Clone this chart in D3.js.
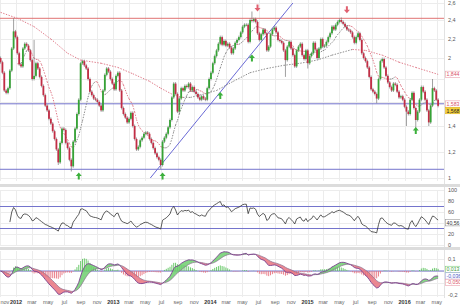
<!DOCTYPE html>
<html>
<head>
<meta charset="utf-8">
<script src="https://cdn.jsdelivr.net/npm/d3@7"></script>
<style>
    body { margin: 0; background: #fff; }
    svg { display: block; font-family: "Liberation Sans", Arial, sans-serif; }
</style>
</head>
<body>
<script>

// Data (weekly candles, first one in the week of 4 Nov 2011)

const FIRST_WEEK = new Date(2011, 10, 4);
const FIRST_OPEN = 2.0;
const closes = [
    1.96, 1.86, 1.70, 1.68, 1.72, 1.88, 2.10, 2.28, 2.22, 2.05,
    1.94, 1.92, 2.10, 2.15, 2.13, 2.08, 1.98, 1.80, 1.83, 1.95,
    1.90, 1.82, 1.74, 1.66, 1.57, 1.53, 1.46, 1.42, 1.36, 1.30,
    1.22, 1.12, 1.27, 1.38, 1.37, 1.27, 1.23, 1.14, 1.09, 1.28,
    1.38, 1.50, 1.62, 1.95, 1.97, 1.93, 1.90, 1.80, 1.69, 1.66,
    1.63, 1.62, 1.60, 1.57, 1.53, 1.70, 1.84, 1.90, 1.87, 1.80,
    1.76, 1.71, 1.83, 1.86, 1.70, 1.55, 1.50, 1.47, 1.43, 1.46,
    1.51, 1.40, 1.30, 1.22, 1.24, 1.29, 1.31, 1.34, 1.35, 1.34,
    1.30, 1.27, 1.23, 1.19, 1.16, 1.14, 1.10, 1.28, 1.31, 1.34,
    1.39, 1.45, 1.64, 1.76, 1.67, 1.52, 1.63, 1.72, 1.70, 1.74,
    1.73, 1.76, 1.70, 1.73, 1.69, 1.67, 1.64, 1.62, 1.65, 1.63,
    1.62, 1.72, 1.80, 1.86, 1.95, 2.02, 2.08, 2.15, 2.22, 2.14,
    2.18, 2.13, 2.15, 2.11, 2.05, 2.10, 2.16, 2.19, 2.22, 2.27,
    2.33, 2.35, 2.35, 2.17, 2.40, 2.39, 2.41, 2.38, 2.26, 2.19,
    2.25, 2.30, 2.26, 2.08, 2.12, 2.25, 2.30, 2.32, 2.27, 2.19,
    2.18, 2.16, 2.08, 1.98, 2.12, 2.17, 2.10, 2.03, 1.92, 2.08,
    2.12, 2.15, 2.03, 1.99, 2.08, 1.95, 2.02, 2.05, 2.16, 2.09,
    2.00, 2.10, 2.20, 2.12, 2.13, 2.17, 2.22, 2.26, 2.33, 2.30,
    2.35, 2.38, 2.40, 2.38, 2.36, 2.33, 2.30, 2.29, 2.27, 2.22,
    2.16, 2.22, 2.26, 2.19, 2.05, 2.00, 1.97, 1.91, 1.82, 1.71,
    1.69, 1.67, 1.63, 1.80, 1.97, 1.99, 1.91, 1.83, 1.77, 1.73,
    1.70, 1.76, 1.75, 1.69, 1.64, 1.65, 1.62, 1.56, 1.52, 1.50,
    1.62, 1.68, 1.55, 1.45, 1.52, 1.62, 1.73, 1.69, 1.62, 1.53,
    1.43, 1.57, 1.72, 1.70, 1.62, 1.568
];
// long shadows: [week, price]
const wickHighs = [[7, 2.42], [18, 2.19], [135, 2.50], [183, 2.43], [232, 1.80]];
const wickLows = [[31, 1.10], [38, 1.05], [86, 1.07], [153, 1.82], [165, 1.90],
                  [202, 1.59], [218, 1.40], [223, 1.38], [230, 1.40]];

// long moving average: [week, price]
const longMa = [
    [0, 2.49], [9, 2.42], [18, 2.33], [27, 2.20], [36, 2.05], [43, 1.98], [54, 1.95],
    [63, 1.91], [71, 1.85], [80, 1.78], [86, 1.72], [93, 1.66], [98, 1.64], [102, 1.64],
    [107, 1.66], [116, 1.70], [125, 1.78], [134, 1.86], [143, 1.90], [152, 1.93],
    [161, 1.95], [170, 1.98], [178, 2.03], [189, 2.09], [196, 2.08], [205, 2.03],
    [214, 1.96], [223, 1.91], [235, 1.844]
];
const SHORT_MA_WEEKS = 10;

const resistance = [2.42];
const supports = [1.585, 1.067];
const trendLine = [[80.5, 1.0], [157, 2.6]];      // [week, price]
const buySignals = [[42, 1.0], [87, 1.0], [118, 1.64], [135, 1.98], [223, 1.35]];
const sellSignals = [[138, 2.54], [186, 2.52]];

const priceTicks = [1.0, 1.2, 1.4, 1.6, 1.8, 2.0, 2.2, 2.4, 2.6];
const rsiTicks = [0, 20, 40, 60, 80, 100];
const rsiBands = [70, 30];
const macdTicks = [-0.2, -0.1, 0, 0.1];
const monthNames = ["jan", "feb", "mar", "apr", "may", "jun", "jul", "aug", "sep", "oct", "nov", "dec"];

// values shown in the boxes at the right edge
const lastLongMa = 1.844, lastShortMa = 1.583, lastClose = 1.568;
const lastRsi = 40.56;
const lastHist = 0.013, lastMacd = -0.036, lastSignal = -0.050;


// Layout

const W = 460, H = 308;
const PLOT_R = 444;
const LABEL_X = 448;
const PRICE_TICK_Y = [178, 152, 126, 102, 79, 58, 39, 20, 3];
const MAIN = {top: 0, bottom: 181};
const RSI = {top: 190, bottom: 245};
const MACD = {top: 251, bottom: 297};

const GREEN = "#36a336", RED = "#c22d45", BLUE = "#7474cc";


// Indicators

function sma(vals, n) {
    return vals.map((v, i) => i < n - 1 ? null : d3.mean(vals.slice(i - n + 1, i + 1)));
}

function ema(vals, n) {
    const k = 2 / (n + 1);
    let e = vals[0];
    return vals.map((v, i) => (e = i ? v * k + e * (1 - k) : v));
}

function rsi(vals, n) {
    let g = 0, l = 0;
    return vals.map((v, i) => {
        if (!i) return null;
        const d = v - vals[i - 1];
        const up = Math.max(d, 0), dn = Math.max(-d, 0);
        if (i <= n) { g += (up - g) / i; l += (dn - l) / i; }
        else { g = (g * (n - 1) + up) / n; l = (l * (n - 1) + dn) / n; }
        return l === 0 ? 100 : 100 - 100 / (1 + g / l);
    });
}


function main() {

    const locale = d3.formatLocale({decimal: ",", thousands: ".", grouping: [3], currency: ["", ""], minus: "-"});
    const fmt = locale.format(".1~f");
    const fmt3 = locale.format(".3f"), fmt2 = locale.format(".2f");

    const dates = closes.map((c, i) => d3.timeDay.offset(FIRST_WEEK, 7 * i));
    const weekDate = w => d3.timeDay.offset(FIRST_WEEK, 7 * w);
    const opens = closes.map((c, i) => i ? closes[i - 1] : FIRST_OPEN);
    const highMap = new Map(wickHighs), lowMap = new Map(wickLows);

    const shortMa = sma(closes, SHORT_MA_WEEKS);
    const rsiVals = rsi(closes, 14);
    const ema12 = ema(closes, 12), ema26 = ema(closes, 26);
    const macd = closes.map((c, i) => ema12[i] - ema26[i]);
    const signal = ema(macd, 9);
    const hist = macd.map((m, i) => m - signal[i]);

    // ----- Scales -----
    const x = d3.scaleTime()
        .domain([new Date(2012, 0, 1), new Date(2016, 0, 1)])
        .range([16, 404.6]);
    const y = d3.scaleLinear().domain(priceTicks).range(PRICE_TICK_Y);
    const yRsi = d3.scaleLinear().domain([0, 100]).range([RSI.bottom, RSI.top]);
    const yMacd = d3.scaleLinear().domain([-0.2, 0.1]).range([295, 259]);

    const svg = d3.select("body").append("svg")
        .attr("width", W)
        .attr("height", H);

    const defs = svg.append("defs");
    [["clipMain", MAIN], ["clipRsi", RSI], ["clipMacd", MACD]].forEach(([id, p]) => {
        defs.append("clipPath").attr("id", id)
            .append("rect").attr("x", 0).attr("y", p.top)
            .attr("width", PLOT_R).attr("height", p.bottom - p.top + 2);
    });

    // ----- Grid -----
    const monthTicks = d3.timeMonth.every(2).range(new Date(2011, 10, 1), new Date(2016, 5, 2));
    const grid = svg.append("g").attr("stroke", "#ececec").attr("stroke-width", 1);
    [MAIN, RSI, MACD].forEach(p => {
        grid.selectAll(null).data(monthTicks).enter().append("line")
            .attr("x1", d => Math.round(x(d)) + 0.5).attr("x2", d => Math.round(x(d)) + 0.5)
            .attr("y1", p.top).attr("y2", p.bottom);
    });
    grid.selectAll(null).data(priceTicks).enter().append("line")
        .attr("x1", 0).attr("x2", PLOT_R)
        .attr("y1", d => Math.round(y(d)) + 0.5).attr("y2", d => Math.round(y(d)) + 0.5);
    grid.selectAll(null).data(rsiTicks).enter().append("line")
        .attr("x1", 0).attr("x2", PLOT_R)
        .attr("y1", d => Math.round(yRsi(d)) + 0.5).attr("y2", d => Math.round(yRsi(d)) + 0.5);
    grid.selectAll(null).data(macdTicks).enter().append("line")
        .attr("x1", 0).attr("x2", PLOT_R)
        .attr("y1", d => Math.round(yMacd(d)) + 0.5).attr("y2", d => Math.round(yMacd(d)) + 0.5);
    svg.append("line")
        .attr("x1", PLOT_R + 0.5).attr("x2", PLOT_R + 0.5)
        .attr("y1", 0).attr("y2", 298)
        .attr("stroke", "#e2e2e2");

    // panel separators
    svg.selectAll("rect.sep").data([184, 247]).enter().append("rect")
        .attr("class", "sep")
        .attr("x", 0).attr("y", d => d)
        .attr("width", W).attr("height", 3)
        .attr("fill", "#dcdcdc");

    // ----- Main panel -----
    const main = svg.append("g").attr("clip-path", "url(#clipMain)");

    main.selectAll("line.res").data(resistance).enter().append("line")
        .attr("x1", 0).attr("x2", PLOT_R)
        .attr("y1", d => y(d)).attr("y2", d => y(d))
        .attr("stroke", "#e07272").attr("stroke-width", 1);
    main.selectAll("line.sup").data(supports).enter().append("line")
        .attr("x1", 0).attr("x2", PLOT_R)
        .attr("y1", d => y(d)).attr("y2", d => y(d))
        .attr("stroke", BLUE).attr("stroke-width", 1);
    main.append("line")
        .attr("x1", x(weekDate(trendLine[0][0]))).attr("y1", y(trendLine[0][1]))
        .attr("x2", x(weekDate(trendLine[1][0]))).attr("y2", y(trendLine[1][1]))
        .attr("stroke", "#6a6ad6").attr("stroke-width", 1);

    // moving averages, red where falling, grey where rising
    function dottedSegments(points) {
        for (let i = 1; i < points.length; i++) {
            const [a, b] = [points[i - 1], points[i]];
            main.append("line")
                .attr("x1", a[0]).attr("y1", a[1])
                .attr("x2", b[0]).attr("y2", b[1])
                .attr("stroke", b[2] < a[2] ? "#e07c8a" : "#8a8a8a")
                .attr("stroke-width", 1)
                .attr("stroke-dasharray", "1.4,1.4");
        }
    }
    dottedSegments(longMa.map(([w, v]) => [x(weekDate(w)), y(v), v]));
    dottedSegments(shortMa.map((v, i) => [x(dates[i]), v === null ? null : y(v), v])
        .filter(d => d[2] !== null));

    // candles
    const candles = main.append("g").selectAll("g")
        .data(closes)
        .enter()
        .append("g");
    candles.append("line")
        .attr("x1", (d, i) => x(dates[i])).attr("x2", (d, i) => x(dates[i]))
        .attr("y1", (d, i) => highMap.has(i) ? y(highMap.get(i)) : y(Math.max(d, opens[i])) - 1.5)
        .attr("y2", (d, i) => lowMap.has(i) ? y(lowMap.get(i)) : y(Math.min(d, opens[i])) + 1.5)
        .attr("stroke", "#777").attr("stroke-width", 0.7);
    candles.append("rect")
        .attr("x", (d, i) => x(dates[i]) - 0.9)
        .attr("width", 1.8)
        .attr("y", (d, i) => y(Math.max(d, opens[i])))
        .attr("height", (d, i) => Math.max(0.8, y(Math.min(d, opens[i])) - y(Math.max(d, opens[i]))))
        .attr("fill", (d, i) => d >= opens[i] ? GREEN : RED);

    // signal arrows
    const arrow = "M0,-3.5 L3,0 L1,0 L1,3.5 L-1,3.5 L-1,0 L-3,0 Z";
    main.selectAll("path.buy").data(buySignals).enter().append("path")
        .attr("d", arrow)
        .attr("transform", d => `translate(${x(weekDate(d[0]))},${y(d[1]) - 2})`)
        .attr("fill", "#3bb03b");
    main.selectAll("path.sell").data(sellSignals).enter().append("path")
        .attr("d", arrow)
        .attr("transform", d => `translate(${x(weekDate(d[0]))},${y(d[1])}) rotate(180)`)
        .attr("fill", "#e06070");

    // ----- RSI panel -----
    const rsiG = svg.append("g").attr("clip-path", "url(#clipRsi)");
    rsiG.selectAll("line.band").data(rsiBands).enter().append("line")
        .attr("x1", 0).attr("x2", PLOT_R)
        .attr("y1", d => yRsi(d)).attr("y2", d => yRsi(d))
        .attr("stroke", BLUE).attr("stroke-width", 1);
    rsiG.append("path")
        .datum(rsiVals.map((v, i) => [dates[i], v]).filter((d, i) => i >= 5))
        .attr("d", d3.line().x(d => x(d[0])).y(d => yRsi(d[1])))
        .attr("fill", "none")
        .attr("stroke", "#333")
        .attr("stroke-width", 0.8);

    // ----- MACD panel -----
    const macdG = svg.append("g").attr("clip-path", "url(#clipMacd)");
    macdG.append("line")
        .attr("x1", 0).attr("x2", PLOT_R)
        .attr("y1", yMacd(0)).attr("y2", yMacd(0))
        .attr("stroke", BLUE).attr("stroke-width", 1);
    macdG.selectAll("line.hist").data(hist).enter().append("line")
        .attr("x1", (d, i) => x(dates[i])).attr("x2", (d, i) => x(dates[i]))
        .attr("y1", yMacd(0)).attr("y2", d => yMacd(d))
        .attr("stroke", d => d >= 0 ? "#5cc45c" : "#e8707e")
        .attr("stroke-width", 0.9);

    // shaded band between MACD and signal, split into runs of the same sign
    const area = d3.area()
        .x(i => x(dates[i]))
        .y0(i => yMacd(signal[i]))
        .y1(i => yMacd(macd[i]));
    let run = [0];
    for (let i = 1; i <= closes.length; i++) {
        if (i === closes.length || (hist[i] >= 0) !== (hist[run[0]] >= 0)) {
            if (i < closes.length) run.push(i);
            macdG.append("path")
                .attr("d", area(run))
                .attr("fill", hist[run[0]] >= 0 ? "#6fcf6f" : "#e8737f")
                .attr("opacity", 0.85);
            run = [i];
        } else {
            run.push(i);
        }
    }
    macdG.append("path")
        .datum(signal)
        .attr("d", d3.line().x((d, i) => x(dates[i])).y(d => yMacd(d)))
        .attr("fill", "none").attr("stroke", "#8a6f8f").attr("stroke-width", 0.7);
    macdG.append("path")
        .datum(macd)
        .attr("d", d3.line().x((d, i) => x(dates[i])).y(d => yMacd(d)))
        .attr("fill", "none").attr("stroke", "#7a3f8f").attr("stroke-width", 0.9);

    // ----- Value boxes at the right edge -----
    const PINK = {bg: "#fff", border: "#eaa0ac", color: "#d9536b"};
    const boxGroups = [
        [{y: y(lastLongMa), text: fmt3(lastLongMa), ...PINK}],
        [{y: y(lastShortMa), text: fmt3(lastShortMa), ...PINK},
         {y: y(lastClose), text: fmt3(lastClose), bg: "#f3cf3a", border: "#e0b820", color: "#222"}],
        [{y: yRsi(lastRsi), text: fmt2(lastRsi), bg: "#fff", border: "#999", color: "#333"}],
        [{y: yMacd(lastHist), text: fmt3(lastHist), bg: "#fff", border: "#7ccf7c", color: "#3a9a3a"},
         {y: yMacd(lastMacd), text: fmt3(lastMacd), bg: "#fff", border: "#a0a8e0", color: "#4a5ac8"},
         {y: yMacd(lastSignal), text: fmt3(lastSignal), ...PINK}]
    ];
    const boxes = [];
    boxGroups.forEach(items => {
        let prev = -100;
        items.forEach(it => {
            const cy = Math.max(it.y, prev + 6.5);
            prev = cy;
            boxes.push({...it, cy});
        });
    });
    // tick labels hidden behind a value box are skipped
    const free = py => boxes.every(b => Math.abs(b.cy - py) > 5.5);

    // ----- Right axis labels -----
    const axisText = svg.append("g")
        .attr("font-size", 5.5)
        .attr("fill", "#555");
    axisText.selectAll(null).data(priceTicks.filter(d => free(y(d)))).enter().append("text")
        .attr("x", LABEL_X).attr("y", d => y(d) + 2)
        .text(d => fmt(d));
    axisText.selectAll(null).data(rsiTicks.filter(d => free(yRsi(d)))).enter().append("text")
        .attr("x", LABEL_X).attr("y", d => yRsi(d) + 2)
        .text(d => d);
    axisText.selectAll(null).data(macdTicks.filter(d => free(yMacd(d)))).enter().append("text")
        .attr("x", LABEL_X).attr("y", d => yMacd(d) + 2)
        .text(d => fmt(d));

    boxes.forEach(b => {
        svg.append("rect")
            .attr("x", PLOT_R + 1.5).attr("y", b.cy - 3.2)
            .attr("width", 15).attr("height", 6.4)
            .attr("fill", b.bg).attr("stroke", b.border).attr("stroke-width", 0.6);
        svg.append("text")
            .attr("x", PLOT_R + 2.5).attr("y", b.cy + 2)
            .attr("font-size", 5.2).attr("fill", b.color)
            .text(b.text);
    });

    // ----- Time axis -----
    svg.append("g").selectAll("text")
        .data(monthTicks)
        .enter()
        .append("text")
            .attr("x", d => x(d) < 5 ? 0.5 : x(d))
            .attr("y", 303.5)
            .attr("text-anchor", d => x(d) < 5 ? "start" : "middle")
            .attr("font-size", 5.5)
            .attr("font-weight", d => d.getMonth() === 0 ? "bold" : "normal")
            .attr("fill", d => d.getMonth() === 0 ? "#333" : "#666")
            .text(d => d.getMonth() === 0 ? d.getFullYear() : monthNames[d.getMonth()]);
}

main();
</script>
</body>
</html>
